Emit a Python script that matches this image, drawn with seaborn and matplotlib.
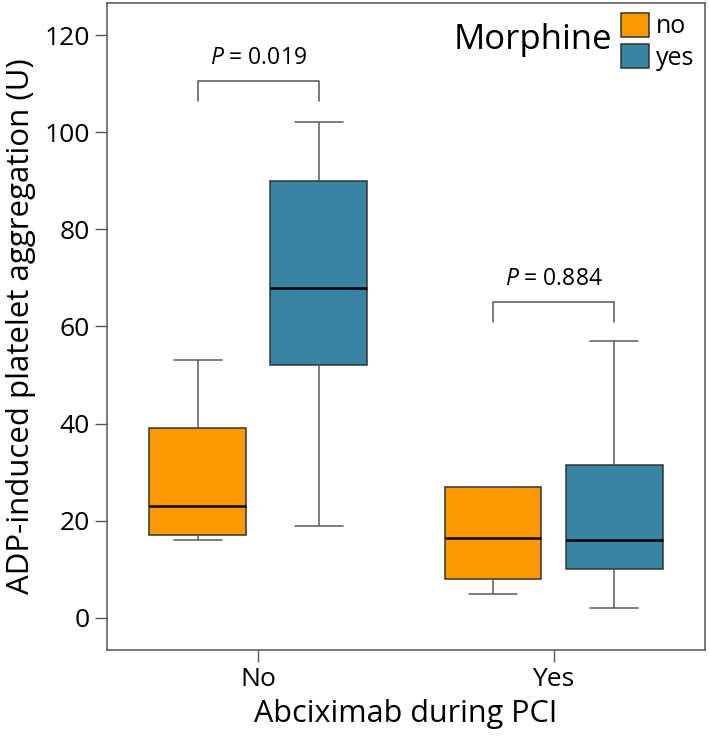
import numpy as np
import pandas as pd
import seaborn as sns
import matplotlib.pyplot as plt

# categories
abciximab = ["No", "Yes"]
morphine = ["no", "yes"]

# five values per group: low whisker, Q1, median, Q3, high whisker
no_no = [16, 17, 23, 39, 53]
no_yes = [19, 52, 68, 90, 102]
yes_no = [5, 8, 16.5, 27, 27]
yes_yes = [2, 10, 16, 31.5, 57]

p_values = ["0.019", "0.884"]
bracket_y = [110.5, 65]
colors = {"no": "#FD9A03", "yes": "#3784A3"}

rows = []
for (a, m), vals in zip([("No", "no"), ("No", "yes"), ("Yes", "no"), ("Yes", "yes")],
                        [no_no, no_yes, yes_no, yes_yes]):
    for v in vals:
        rows.append({"Abciximab": a, "Morphine": m, "ADP": v})
df = pd.DataFrame(rows)

sns.set_theme(style="white")
plt.rcParams["font.family"] = ["Open Sans", "DejaVu Sans"]
plt.rcParams["mathtext.fontset"] = "custom"
plt.rcParams["mathtext.it"] = "Open Sans:italic"
plt.rcParams["mathtext.rm"] = "Open Sans"
plt.rcParams["text.color"] = "black"
plt.rcParams["axes.labelcolor"] = "black"
plt.rcParams["xtick.labelcolor"] = "black"
plt.rcParams["ytick.labelcolor"] = "black"

fig = plt.figure(figsize=(7.09, 7.41), dpi=100)
ax = fig.add_axes([0.151, 0.123, 0.843, 0.873])

box_width = 0.82
sns.boxplot(data=df, x="Abciximab", y="ADP", hue="Morphine",
            order=abciximab, hue_order=morphine, palette=colors,
            saturation=1, width=box_width, gap=0.2, whis=np.inf,
            linecolor="#5a5a5a", linewidth=1.1,
            boxprops={"edgecolor": "#333333"},
            medianprops={"color": "black", "linewidth": 1.8},
            ax=ax)

# significance brackets between the two morphine boxes
off = box_width / 4
for i, (p, yb) in enumerate(zip(p_values, bracket_y)):
    x0, x1 = i - off, i + off
    ax.plot([x0, x0, x1, x1], [yb - 4, yb, yb, yb - 4], color="#555555", lw=1.1)
    ax.text(i, yb + 2.3, r"$P$ = " + p, ha="center", va="bottom", fontsize=16.5)

ax.set_ylim(-6.6, 126.6)
ax.set_xlim(-0.512, 1.512)
ax.set_yticks([0, 20, 40, 60, 80, 100, 120])
ax.tick_params(axis="both", direction="out", length=8.5, width=1, color="#555555",
               labelsize=19, pad=4, left=True, bottom=True)
ax.set_xlabel("Abciximab during PCI", fontsize=22, labelpad=5)
ax.set_ylabel("ADP-induced platelet aggregation (U)", fontsize=22.5, labelpad=6)
for s in ax.spines.values():
    s.set_color("#555555")
    s.set_linewidth(1.1)

ax.legend(loc="upper right", frameon=False, fontsize=18, handlelength=1.1,
          handleheight=1.1, labelspacing=0.2, handletextpad=0.3,
          borderaxespad=0.2, borderpad=0.2)
ax.text(0.846, 0.943, "Morphine", transform=ax.transAxes, ha="right", va="center",
        fontsize=25)

fig.savefig("out.png", dpi=100)
